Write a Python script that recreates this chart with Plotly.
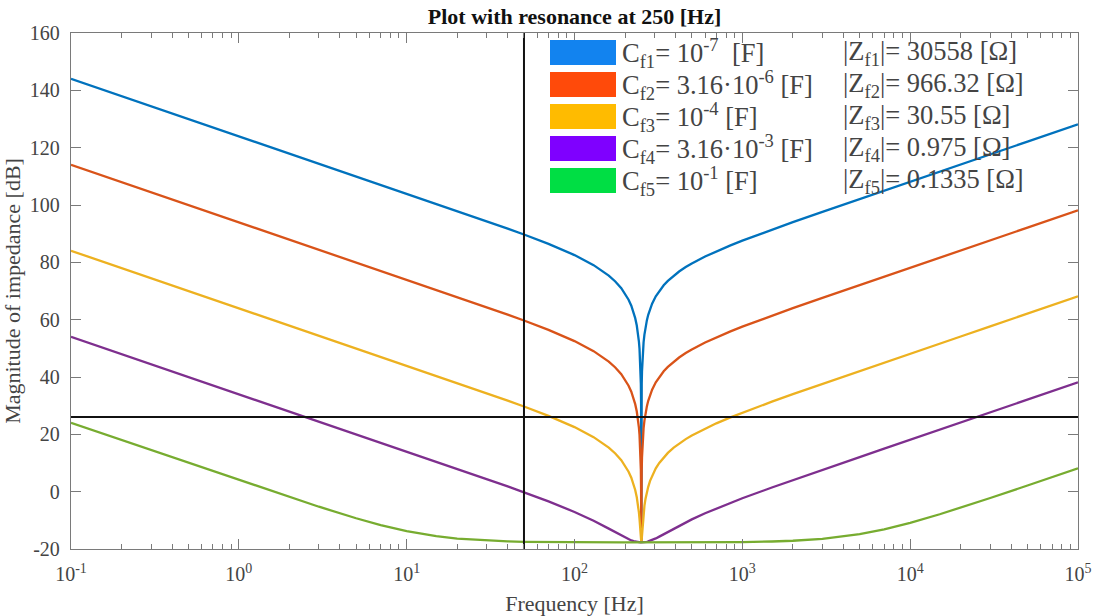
import plotly.graph_objects as go

# ---------------- data ----------------
freq_hz = [0.1, 0.3, 1, 1.5, 2, 3, 5, 7, 10, 15,
           20, 30, 40, 50, 70, 100, 130, 160, 175, 190,
           200, 210, 218, 225, 230, 235, 238, 242, 244, 246,
           247.5, 248.5, 249.3, 250, 250.7, 251.5, 252.5, 254, 256, 258,
           261, 265, 270, 275, 282, 290, 305, 320, 340, 360,
           390, 420, 460, 500, 600, 700, 850, 1000, 1500, 2000,
           3000, 4000, 5000, 7000, 10000, 15000, 20000, 30000, 50000, 100000]

mag_cf1_db = [144.04, 134.50, 124.04, 120.52, 118.02, 114.50, 110.06, 107.13, 104.03, 100.49,
              97.96, 94.37, 91.77, 89.71, 86.43, 82.53, 79.02, 75.38, 73.33, 70.98,
              69.15, 66.97, 64.86, 62.57, 60.53, 57.94, 55.94, 52.35, 49.81, 46.25,
              42.15, 37.69, 31.06, -17.72, 31.03, 37.64, 42.06, 46.12, 49.60, 52.07,
              54.79, 57.42, 59.84, 61.70, 63.74, 65.56, 68.13, 70.04, 71.99, 73.53,
              75.35, 76.79, 78.34, 79.60, 82.03, 83.84, 85.93, 87.56, 91.40, 94.01,
              97.60, 100.13, 102.08, 105.01, 108.12, 111.64, 114.14, 117.66, 122.10, 128.12]
mag_cf2_db = [114.04, 104.50, 94.04, 90.52, 88.02, 84.50, 80.06, 77.13, 74.03, 70.49,
              67.96, 64.37, 61.77, 59.71, 56.43, 52.53, 49.02, 45.38, 43.33, 40.98,
              39.15, 36.97, 34.86, 32.57, 30.53, 27.94, 25.94, 22.35, 19.81, 16.25,
              12.15, 7.70, 1.11, -17.72, 1.09, 7.64, 12.06, 16.12, 19.60, 22.07,
              24.79, 27.42, 29.84, 31.70, 33.74, 35.56, 38.13, 40.04, 41.99, 43.53,
              45.35, 46.79, 48.34, 49.60, 52.03, 53.84, 55.93, 57.56, 61.40, 64.01,
              67.60, 70.13, 72.08, 75.01, 78.12, 81.64, 84.14, 87.66, 92.10, 98.12]
mag_cf3_db = [84.04, 74.50, 64.04, 60.52, 58.02, 54.50, 50.06, 47.13, 44.03, 40.49,
              37.96, 34.37, 31.77, 29.71, 26.43, 22.53, 19.02, 15.38, 13.33, 10.98,
              9.15, 6.97, 4.88, 2.61, 0.60, -1.94, -3.87, -7.25, -9.48, -12.28,
              -14.78, -16.42, -17.41, -17.72, -17.41, -16.44, -14.82, -12.38, -9.66, -7.50,
              -4.98, -2.45, -0.09, 1.70, 3.77, 5.56, 8.13, 10.04, 12.00, 13.53,
              15.35, 16.79, 18.34, 19.60, 22.03, 23.84, 25.93, 27.56, 31.40, 34.01,
              37.60, 40.13, 42.08, 45.01, 48.12, 51.64, 54.14, 57.66, 62.10, 68.12]
mag_cf4_db = [54.04, 44.50, 34.04, 30.52, 28.02, 24.50, 20.06, 17.13, 14.03, 10.49,
              7.96, 4.37, 1.82, -0.22, -3.41, -7.08, -10.14, -12.89, -14.15, -15.31,
              -16.00, -16.60, -17.00, -17.28, -17.44, -17.56, -17.62, -17.68, -17.70, -17.71,
              -17.72, -17.72, -17.72, -17.72, -17.72, -17.72, -17.72, -17.71, -17.70, -17.68,
              -17.64, -17.58, -17.48, -17.36, -17.15, -16.88, -16.31, -15.69, -14.85, -14.04,
              -12.91, -11.90, -10.70, -9.66, -7.53, -5.87, -3.89, -2.31, 1.45, 4.04,
              7.62, 10.13, 12.08, 15.01, 18.12, 21.64, 24.14, 27.66, 32.10, 38.12]
mag_cf5_db = [24.04, 14.50, 4.07, 0.58, -1.87, -5.25, -9.27, -11.64, -13.75, -15.51,
              -16.35, -17.07, -17.35, -17.49, -17.61, -17.68, -17.70, -17.71, -17.72, -17.72,
              -17.72, -17.72, -17.72, -17.72, -17.72, -17.72, -17.72, -17.72, -17.72, -17.72,
              -17.72, -17.72, -17.72, -17.72, -17.72, -17.72, -17.72, -17.72, -17.72, -17.72,
              -17.72, -17.72, -17.72, -17.72, -17.72, -17.72, -17.72, -17.72, -17.72, -17.72,
              -17.71, -17.71, -17.70, -17.70, -17.68, -17.66, -17.62, -17.58, -17.38, -17.12,
              -16.45, -15.65, -14.81, -13.13, -10.88, -7.88, -5.58, -2.21, 2.15, 8.13]

series_mag = [mag_cf1_db, mag_cf2_db, mag_cf3_db, mag_cf4_db, mag_cf5_db]
series_cap_labels = ["C<sub>f1</sub>= 10<sup>-7</sup>&nbsp;&nbsp;[F]",
                     "C<sub>f2</sub>= 3.16·10<sup>-6</sup> [F]",
                     "C<sub>f3</sub>= 10<sup>-4</sup> [F]",
                     "C<sub>f4</sub>= 3.16·10<sup>-3</sup> [F]",
                     "C<sub>f5</sub>= 10<sup>-1</sup> [F]"]
series_z_labels = ["|Z<sub>f1</sub>|= 30558 [Ω]",
                   "|Z<sub>f2</sub>|= 966.32 [Ω]",
                   "|Z<sub>f3</sub>|= 30.55 [Ω]",
                   "|Z<sub>f4</sub>|= 0.975 [Ω]",
                   "|Z<sub>f5</sub>|= 0.1335 [Ω]"]

ref_freq_hz = 50          # vertical marker
ref_mag_db = 26.02        # horizontal marker (20 ohm)

x_tickvals = [0.1, 1, 10, 100, 1000, 10000, 100000]
x_ticktext = ["10<sup>-1</sup>", "10<sup>0</sup>", "10<sup>1</sup>", "10<sup>2</sup>",
              "10<sup>3</sup>", "10<sup>4</sup>", "10<sup>5</sup>"]
y_tickvals = [-20, 0, 20, 40, 60, 80, 100, 120, 140, 160]
y_ticktext = ["-20", "0", "20", "40", "60", "80", "100", "120", "140", "160"]

# ---------------- styling ----------------
line_colors = ["#0072BD", "#D95319", "#EDB120", "#7E2F8E", "#77AC30"]
patch_colors = ["#1283ef", "#ff4a0a", "#ffbb00", "#7f00ff", "#00de44"]
FONT = "Liberation Serif, Times New Roman, serif"
AXC = "#7a7a7a"
TXC = "#444444"

W, H = 1096, 616
ML, MR, MT, MB = 71, 18, 33, 67
PW, PH = W - ML - MR, H - MT - MB

fig = go.Figure()
for mags, col in zip(series_mag, line_colors):
    fig.add_trace(go.Scatter(x=freq_hz, y=mags, mode="lines",
                             line=dict(color=col, width=2.3), showlegend=False,
                             hoverinfo="x+y"))

fig.add_trace(go.Scatter(x=[x_tickvals[0], x_tickvals[-1]], y=[ref_mag_db, ref_mag_db],
                         mode="lines", line=dict(color="#111111", width=2), showlegend=False))
fig.add_trace(go.Scatter(x=[ref_freq_hz, ref_freq_hz], y=[y_tickvals[0], y_tickvals[-1]],
                         mode="lines", line=dict(color="#111111", width=2), showlegend=False))

# manual legend (patches + text)
def px_x(p):
    return (p - ML) / PW

def px_y(p):
    return (MT + PH - p) / PH

shapes = []
annotations = []
for i in range(5):
    cy = 52.5 + 32 * i
    shapes.append(dict(type="rect", xref="paper", yref="paper",
                       x0=px_x(550), x1=px_x(616), y0=px_y(cy + 12.5), y1=px_y(cy - 12.5),
                       fillcolor=patch_colors[i], line=dict(width=0)))
    annotations.append(dict(xref="paper", yref="paper", x=px_x(620), y=px_y(cy + 1),
                            xanchor="left", yanchor="middle", showarrow=False,
                            text=series_cap_labels[i],
                            font=dict(family=FONT, size=26.5, color=TXC)))
    annotations.append(dict(xref="paper", yref="paper", x=px_x(841), y=px_y(cy + 1),
                            xanchor="left", yanchor="middle", showarrow=False,
                            text=series_z_labels[i],
                            font=dict(family=FONT, size=26.5, color=TXC)))

minor_vals = [m * 10 ** e for e in range(-1, 5) for m in range(2, 10)]

fig.update_layout(
    width=W, height=H,
    margin=dict(l=ML, r=MR, t=MT, b=MB, pad=0),
    paper_bgcolor="white", plot_bgcolor="white",
    font=dict(family=FONT, color=TXC),
    title=dict(text="<b>Plot with resonance at 250 [Hz]</b>", x=(ML + PW / 2) / W,
               xanchor="center", y=1 - 16 / H, yanchor="middle",
               font=dict(family=FONT, size=22, color="#111111")),
    shapes=shapes, annotations=annotations,
    showlegend=False,
    xaxis=dict(type="log", range=[-1, 5], tickmode="array", tickvals=x_tickvals,
               ticktext=x_ticktext, ticks="inside", ticklen=10, tickwidth=1, tickcolor=AXC,
               showline=True, linecolor=AXC, linewidth=1.3, mirror="allticks",
               showgrid=False, zeroline=False, automargin=False,
               tickfont=dict(family=FONT, size=20, color=TXC),
               ticklabelstandoff=7,
               minor=dict(tickmode="array", tickvals=minor_vals, ticks="inside",
                          ticklen=5, tickcolor=AXC, showgrid=False),
               title=dict(text="Frequency [Hz]", font=dict(family=FONT, size=22, color=TXC),
                          standoff=11)),
    yaxis=dict(range=[-20, 160], tickmode="array", tickvals=y_tickvals, ticktext=y_ticktext,
               ticks="inside", ticklen=10, tickwidth=1, tickcolor=AXC,
               showline=True, linecolor=AXC, linewidth=1.3, mirror="allticks",
               showgrid=False, zeroline=False, automargin=False,
               tickfont=dict(family=FONT, size=20, color=TXC),
               ticklabelstandoff=6,
               title=dict(text="Magnitude of impedance [dB]",
                          font=dict(family=FONT, size=22, color=TXC), standoff=6)),
)

fig.write_html("out.html")
